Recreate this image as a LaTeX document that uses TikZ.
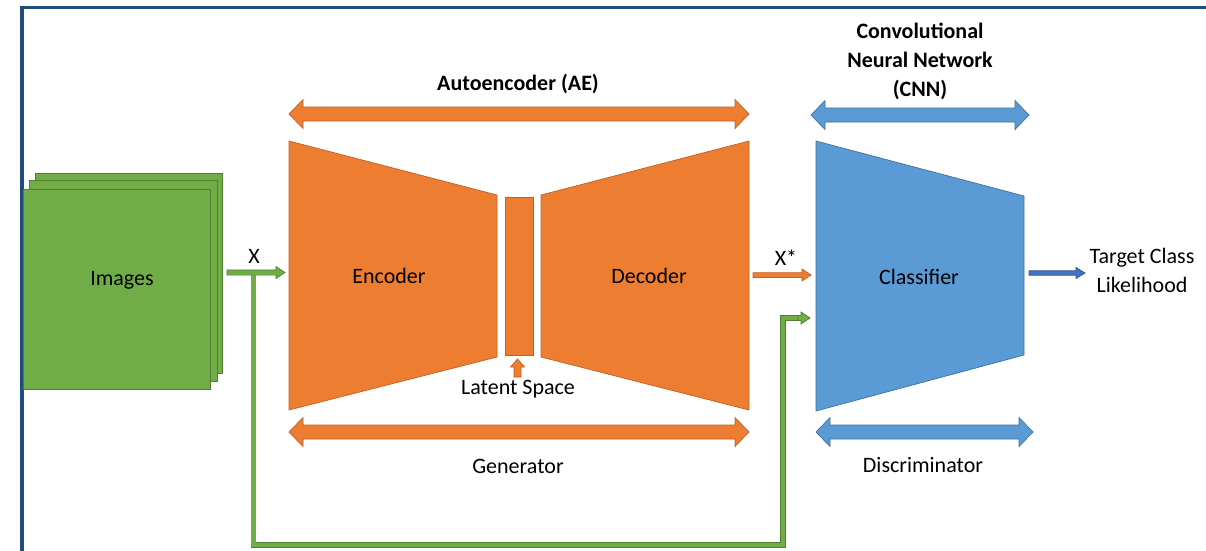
\documentclass[tikz,border=0pt]{standalone}
\usepackage{fontspec}
\setmainfont{Carlito}
\usetikzlibrary{calc}
\definecolor{orF}{HTML}{ED7D31}
\definecolor{orD}{HTML}{BE6228}
\definecolor{blF}{HTML}{5B9BD5}
\definecolor{blD}{HTML}{41719C}
\definecolor{grF}{HTML}{70AD47}
\definecolor{grD}{HTML}{507E32}
\definecolor{frm}{HTML}{1F4E79}
\definecolor{outF}{HTML}{4472C4}
\definecolor{outD}{HTML}{2F528F}
% double block arrow: x1 x2 y style
\newcommand\dblarr[4]{%
  \draw[#4] ({#1},{#3}) -- ({#1+14},{#3-14.5}) -- ({#1+14},{#3-7}) -- ({#2-14},{#3-7})
    -- ({#2-14},{#3-14.5}) -- ({#2},{#3}) -- ({#2-14},{#3+14.5}) -- ({#2-14},{#3+7})
    -- ({#1+14},{#3+7}) -- ({#1+14},{#3+14.5}) -- cycle;}
% single block arrow: x1 x2 y shafthalf headhalf headlen style
\newcommand\sglarr[7]{%
  \draw[#7] ({#1},{#3-#4}) -- ({#2-#6},{#3-#4}) -- ({#2-#6},{#3-#5}) -- ({#2},{#3})
    -- ({#2-#6},{#3+#5}) -- ({#2-#6},{#3+#4}) -- ({#1},{#3+#4}) -- cycle;}
\tikzset{
  orS/.style={fill=orF, draw=orD, line width=0.7},
  blS/.style={fill=blF, draw=blD, line width=0.7},
  grS/.style={fill=grF, draw=grD, line width=0.7},
  outS/.style={fill=outF, draw=outD, line width=0.7},
  lbl/.style={font=\fontsize{22}{28}\selectfont, anchor=base, inner sep=0pt},
  blbl/.style={font=\fontsize{22}{29}\selectfont\bfseries, align=center, inner sep=0pt},
}
\begin{document}
\begin{tikzpicture}[x=1pt,y=-1pt]
\useasboundingbox (0,0) rectangle (1206,550);
\fill[white] (0,0) rectangle (1206,550);
% frame
\draw[frm, line width=3.5] (22,560) -- (22,7.5) -- (1215,7.5);
% images stack
\draw[grS] (35,173) rectangle (222,373);
\draw[grS] (29,180) rectangle (217,381);
\draw[grS] (23,189) rectangle (210,389);
\node[lbl] (img) at (122,285) {Images};
% encoder / latent / decoder
\draw[orS] (289,141) -- (497,195) -- (497,357) -- (289,410) -- cycle;
\draw[orS] (505,197) rectangle (533,355);
\draw[orS] (541,195) -- (749,141) -- (749,410) -- (541,357) -- cycle;
\node[lbl] (enc) at (389,283) {Encoder};
\node[lbl] (dec) at (649,283) {Decoder};
% latent arrow
\draw[orS] (514,377) -- (514,367) -- (510.5,367) -- (517.5,359) -- (524.5,367) -- (521,367) -- (521,377) -- cycle;
\node[lbl] (lat) at (518,394) {Latent Space};
% classifier
\draw[blS] (816,141) -- (1024,196) -- (1024,355) -- (816,411) -- cycle;
\node[lbl] (cls) at (919,284) {Classifier};
% span arrows
\dblarr{289}{749}{114}{orS}
\dblarr{289}{749}{432}{orS}
\dblarr{811}{1029}{115}{blS}
\dblarr{816}{1033}{432}{blS}
\node[blbl, font=\fontsize{22}{29}\selectfont\bfseries] (ae) at (518,84) {Autoencoder (AE)};
\node[lbl] (gen) at (518,473) {Generator};
\node[lbl] (dis) at (923,472) {Discriminator};
\node[blbl] (cnn) at (920,61) {Convolutional\\Neural Network\\(CNN)};
% feedback path
\draw[draw=grD, line width=0.7, double=grF, double distance=4.4] (253.5,275) -- (253.5,545) -- (783,545) -- (783,318) -- (801,318);
\sglarr{798}{810}{318}{2.6}{6}{9}{grS}
% X arrow
\sglarr{227}{285}{272.5}{2.6}{6}{9}{grS}
\node[lbl] (x) at (254,263) {X};
% X* arrow
\sglarr{753}{811}{275}{2.4}{6}{9}{orS}
\node[lbl] (xs) at (786,265) {X*};
% output
\sglarr{1029}{1085}{273}{2.2}{5.5}{9}{outS}
\node[blbl, font=\fontsize{22}{29}\selectfont] (tcl) at (1142,270) {Target Class\\Likelihood};
\end{tikzpicture}
\end{document}
